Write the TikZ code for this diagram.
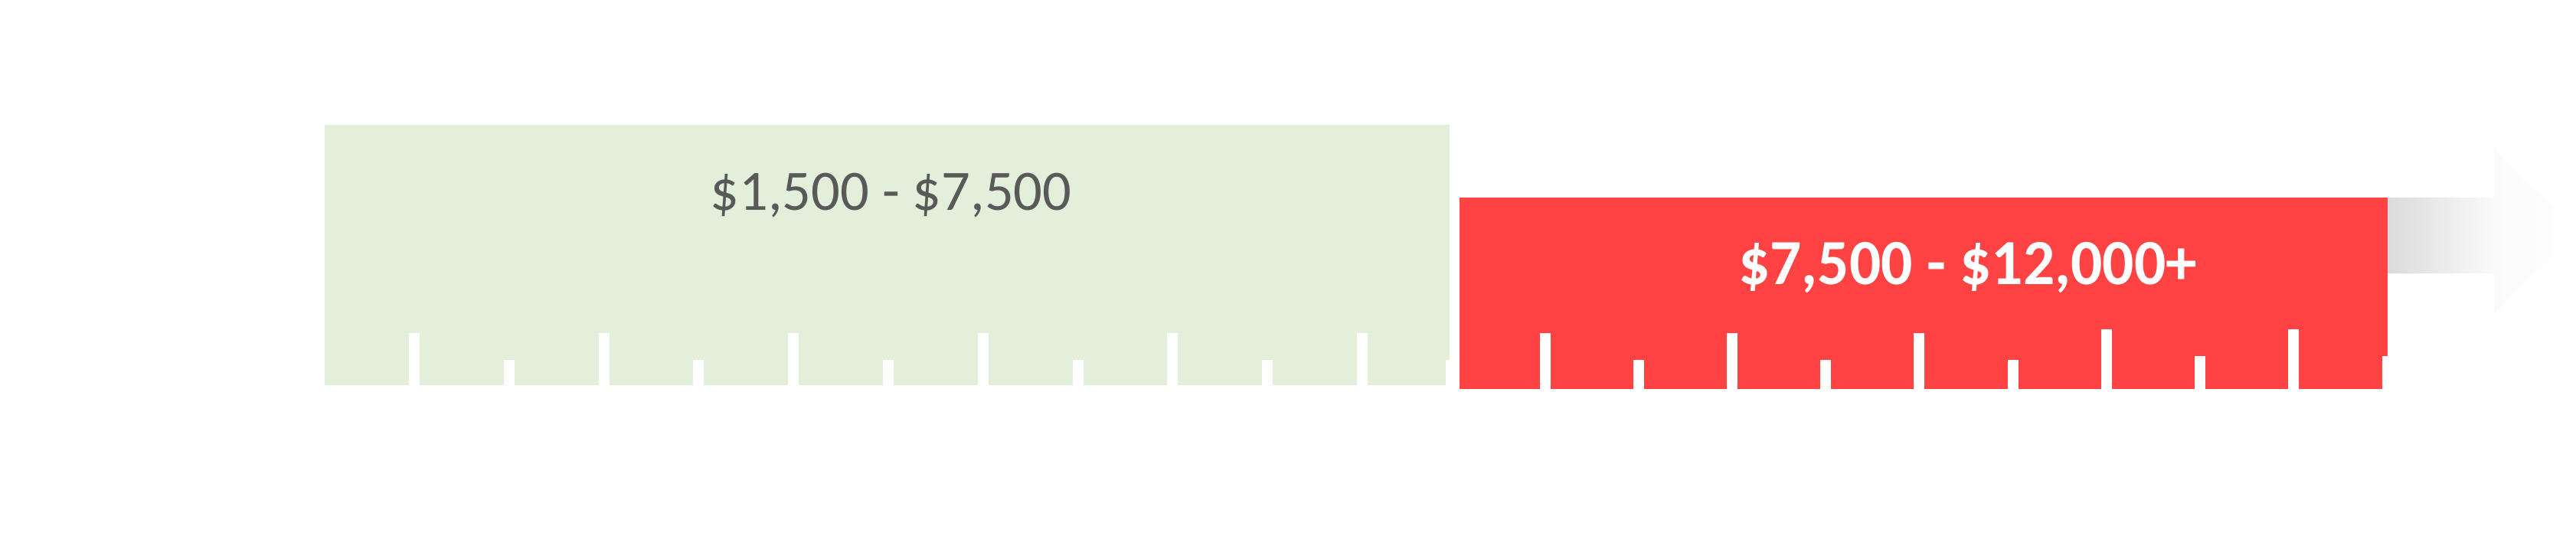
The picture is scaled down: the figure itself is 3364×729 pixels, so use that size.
\documentclass[tikz,border=0pt]{standalone}
\usepackage{fontspec}
\usepackage{xcolor}
\usetikzlibrary{positioning,calc}
\newfontfamily\rulerfont{Carlito}
\newfontfamily\rulerbold[FakeStretch=0.97]{Carlito Bold}
\definecolor{bandgreen}{HTML}{E2EFDA}
\definecolor{bandred}{HTML}{FF4242}
\definecolor{labelgray}{HTML}{595959}
\definecolor{arrowgray}{HTML}{D9D9D9}
\definecolor{arrowpale}{HTML}{FAFAFA}
\tikzset{
  band/.style     = {draw=none, inner sep=0pt, outer sep=0pt, anchor=north west},
  tickmark/.style = {fill=white, draw=none},
  lowlbl/.style   = {font=\rulerfont\fontsize{21.2pt}{25pt}\selectfont,
                     text=labelgray, anchor=base, inner sep=0pt},
  highlbl/.style  = {font=\rulerbold\fontsize{23.9pt}{28pt}\selectfont,
                     text=white, anchor=base, inner sep=0pt},
}

\begin{document}
\begin{tikzpicture}[x=0.01cm, y=-0.01cm]
\useasboundingbox[fill=white] (0,0) rectangle (3364,729);

% ===== trailing arrow =====
\shade[left color=arrowgray, right color=arrowpale]
  (3110,258) rectangle (3257,356);
\shade[left color=arrowpale, right color=white]
  (3257,195) -- (3364,303) -- (3257,410) -- cycle;

% ===== bands =====
\node[band, fill=bandgreen, minimum width=14.68cm, minimum height=3.40cm]
     (low) at (424,163) {};
\node[band, fill=bandred, minimum width=12.11cm, minimum height=2.50cm]
     (high) at (1906,258) {};

% ===== ruler ticks =====
\foreach \k/\ty in {0/435,1/470,2/435,3/470,4/435,5/470,6/435,7/470,8/435,9/470,10/435}{
  \pgfmathsetmacro\tx{534+123.8*\k}
  \fill[tickmark] (\tx,\ty) rectangle ({\tx+14},504);
}
\fill[tickmark] (1888,470) rectangle (1893,504);
\foreach \k/\ty in {0/435,1/470,2/435,3/470,4/435,5/470,6/430,7/465,8/430}{
  \pgfmathsetmacro\tx{2011+122.1*\k}
  \fill[tickmark] (\tx,\ty) rectangle ({\tx+14},509);
}
\fill[tickmark] (3111,465) rectangle (3118,509);

% ===== labels =====
\node[lowlbl]  (lowtxt)  at (1163.5,274) {\$1,500 - \$7,500};
\node[highlbl] (hightxt) at (2569.5,371) {\$7,500 - \$12,000+};
\end{tikzpicture}
\end{document}
